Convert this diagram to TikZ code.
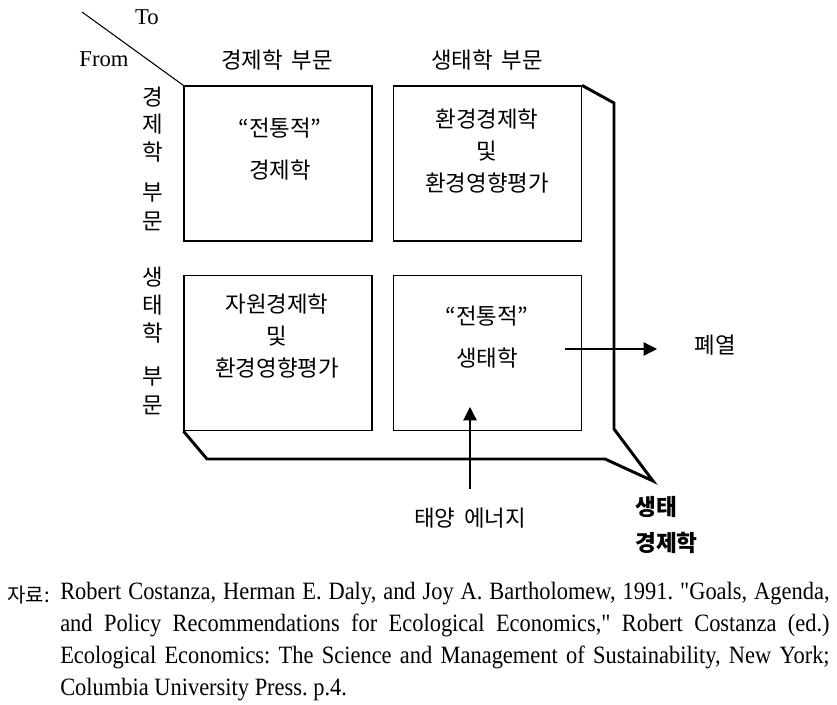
\documentclass[tikz,border=0pt]{standalone}
\usepackage{fontspec}
\setmainfont{Liberation Serif}
\newfontfamily\kr{Noto Sans CJK KR}
\newfontfamily\capfont[FakeStretch=0.9]{Liberation Serif}
\usetikzlibrary{arrows.meta}
\newcommand{\krsp}{\hspace{0.4em}}
\begin{document}
\begin{tikzpicture}[x=0.75pt,y=-0.75pt,
  cell/.style={draw,line width=0.9pt,minimum width=141pt,minimum height=116.25pt,inner sep=0pt},
  krtext/.style={font={\kr\fontsize{16.8}{24}\selectfont},align=center,inner sep=0pt},
  latin/.style={font={\fontsize{17}{19}\selectfont},inner sep=0pt},
  thick line/.style={line width=2.2pt,line join=miter},
  arr/.style={line width=0.9pt,-{Triangle[length=10pt,width=10pt]}}]
\useasboundingbox (0,0) rectangle (837,704);
% cells
\node[cell] (b1) at (278,163.5) {};
\node[cell] (b2) at (487.5,163.5) {};
\node[cell] (b3) at (278,353) {};
\node[cell] (b4) at (487.5,353) {};
% diagonal header
\coordinate (d0) at (82,12);
\draw[line width=0.8pt] (d0) -- (b1.north west);
\node[latin] (to) at (147,17) {To};
\node[latin] (from) at (104,59) {From};
\node[krtext] (h1) at (277,60) {경제학\krsp 부문};
\node[krtext] (h2) at (487,60) {생태학\krsp 부문};
% row labels
\node[krtext] (r1a) at (153,97) {경};
\node[krtext] (r1b) at (153,124) {제};
\node[krtext] (r1c) at (153,152) {학};
\node[krtext] (r1d) at (153,193) {부};
\node[krtext] (r1e) at (153,221) {문};
\node[krtext] (r2a) at (153,277) {생};
\node[krtext] (r2b) at (153,305) {태};
\node[krtext] (r2c) at (153,333) {학};
\node[krtext] (r2d) at (153,377) {부};
\node[krtext] (r2e) at (153,405) {문};
% cell texts
\node[krtext] (t1) at (280,149) {“전통적”\\[8pt]경제학};
\node[krtext] (t2) at (487,151) {환경경제학\\및\\환경영향평가};
\node[krtext] (t3) at (277,336) {자원경제학\\및\\환경영향평가};
\node[krtext] (t4) at (487,337) {“전통적”\\[8pt]생태학};
% thick outline
\draw[thick line] (b2.north east) -- (614,103) -- (614,429) -- (653,481)
  -- (605,459) -- (207,459) -- (b3.south west);
% arrows
\coordinate (s0) at (470,489);
\coordinate (s1) at (470,407);
\draw[arr] (s0) -- (s1);
\coordinate (w0) at (565,349);
\coordinate (w1) at (657,349);
\draw[arr] (w0) -- (w1);
\node[krtext] (heat) at (715,345) {폐열};
\node[krtext] (sun) at (470,518) {태양\krsp 에너지};
\node[krtext,align=left,anchor=west,font={\kr\bfseries\fontsize{17}{27}\selectfont}] (ee) at (635,525) {생태\\경제학};
% caption
\node[anchor=west,font={\kr\fontsize{15}{18}\selectfont},inner sep=0pt] (src) at (7,595) {자료:};
\node[anchor=north west,text width=577pt,align=justify,inner sep=0pt,
  font={\capfont\frenchspacing\fontsize{18.7}{24}\selectfont}] (cap) at (60,582)
  {Robert Costanza, Herman E. Daly, and Joy A. Bartholomew, 1991. "Goals, Agenda,\linebreak
  and Policy Recommendations for Ecological Economics," Robert Costanza (ed.)\linebreak
  Ecological Economics: The Science and Management of Sustainability, New York;\linebreak
  Columbia University Press. p.4.};
\end{tikzpicture}
\end{document}
